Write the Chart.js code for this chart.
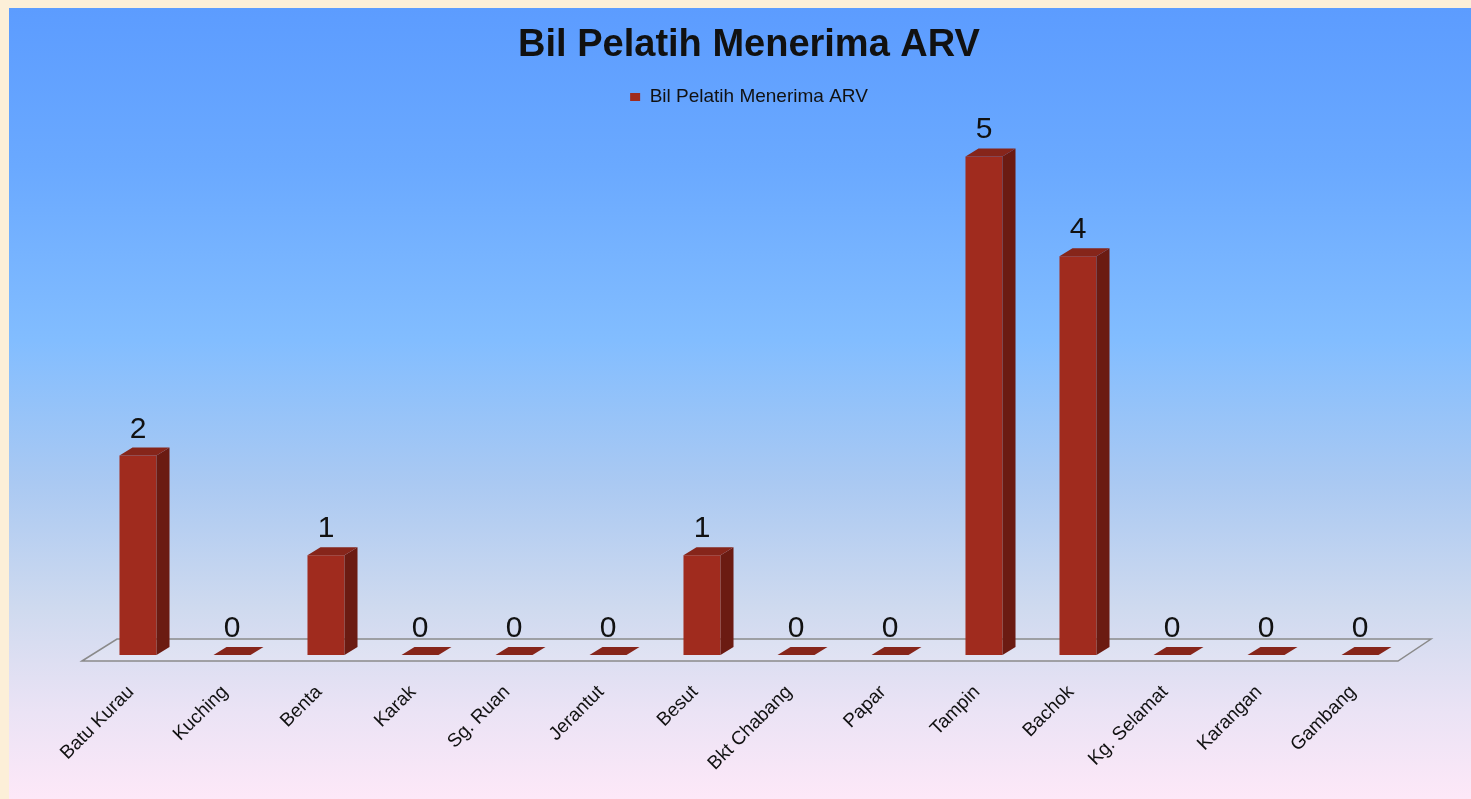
<!DOCTYPE html>
<html lang="ms">
<head>
<meta charset="utf-8">
<title>Bil Pelatih Menerima ARV</title>
<script src="https://cdn.jsdelivr.net/npm/chart.js@4.4.1/dist/chart.umd.min.js"></script>
<style>
    html, body { margin: 0; padding: 0; width: 1471px; height: 799px; overflow: hidden; background: #fcefd8; }
    #bingkai {
        position: absolute; left: 9px; top: 8px; width: 1462px; height: 791px;
        background: linear-gradient(to bottom, #5c9cff 0%, #6aa9ff 20%, #82bdff 42%, #aac9f2 60%, #cfdaef 76%, #ebe3f5 89%, #fde8f8 100%);
    }
</style>
</head>
<body>
<div id="bingkai"><canvas id="carta-arv"></canvas></div>
<script>
/* ====================================================
   CARTA - BIL PELATIH MENERIMA ARV
   ==================================================== */

// Data carta
const tajukCarta = 'Bil Pelatih Menerima ARV';
const labelSiri = 'Bil Pelatih Menerima ARV';
const kategori = ['Batu Kurau', 'Kuching', 'Benta', 'Karak', 'Sg. Ruan', 'Jerantut', 'Besut',
                  'Bkt Chabang', 'Papar', 'Tampin', 'Bachok', 'Kg. Selamat', 'Karangan', 'Gambang'];
const bilPelatih = [2, 0, 1, 0, 0, 0, 1, 0, 0, 5, 4, 0, 0, 0];

const FONT = '"Liberation Sans", Arial, sans-serif';
const WARNA_DEPAN = '#a02b1e';
const WARNA_SISI = '#6b1b12';
const WARNA_ATAS = '#86251a';

/**
 * Lantai 3D, sisi dan bumbung bar, serta nilai di atas setiap bar
 */
const kesan3D = {
    id: 'kesan3D',
    beforeDatasetsDraw(chart) {
        const { ctx, scales: { x, y } } = chart;
        const asas = y.getPixelForValue(0);
        ctx.save();
        ctx.beginPath();
        ctx.moveTo(x.left - 9, asas + 6);
        ctx.lineTo(x.left + 26, asas - 16);
        ctx.lineTo(x.right + 24, asas - 16);
        ctx.lineTo(x.right - 9, asas + 6);
        ctx.closePath();
        ctx.fillStyle = 'rgba(255,255,255,0.12)';
        ctx.fill();
        ctx.strokeStyle = '#8a8a8a';
        ctx.lineWidth = 1.5;
        ctx.stroke();
        ctx.restore();
    },
    afterDatasetsDraw(chart) {
        const { ctx } = chart;
        const dx = 13, dy = 8;
        const meta = chart.getDatasetMeta(0);
        ctx.save();
        meta.data.forEach((bar, i) => {
            const { x, y, base, width } = bar.getProps(['x', 'y', 'base', 'width'], true);
            const kiri = x - width / 2;
            const kanan = x + width / 2;

            // sisi kanan
            if (base - y > 0.5) {
                ctx.beginPath();
                ctx.moveTo(kanan, y);
                ctx.lineTo(kanan + dx, y - dy);
                ctx.lineTo(kanan + dx, base - dy);
                ctx.lineTo(kanan, base);
                ctx.closePath();
                ctx.fillStyle = WARNA_SISI;
                ctx.fill();
            }

            // bumbung (atau tapak rata bila nilai 0)
            ctx.beginPath();
            ctx.moveTo(kiri, y);
            ctx.lineTo(kiri + dx, y - dy);
            ctx.lineTo(kanan + dx, y - dy);
            ctx.lineTo(kanan, y);
            ctx.closePath();
            ctx.fillStyle = WARNA_ATAS;
            ctx.fill();

            // nilai
            ctx.fillStyle = '#111111';
            ctx.font = '30px ' + FONT;
            ctx.textAlign = 'center';
            ctx.textBaseline = 'alphabetic';
            ctx.fillText(String(bilPelatih[i]), x, y - 18);
        });
        ctx.restore();
    }
};

const ctx = document.getElementById('carta-arv').getContext('2d');
window.cartaArv = new Chart(ctx, {
    type: 'bar',
    data: {
        labels: kategori,
        datasets: [{
            label: labelSiri,
            data: bilPelatih,
            backgroundColor: WARNA_DEPAN,
            borderWidth: 0,
            categoryPercentage: 1,
            barPercentage: 0.394
        }]
    },
    options: {
        responsive: true,
        maintainAspectRatio: false,
        animation: false,
        layout: { padding: { left: 82, right: 64, top: 0, bottom: 0 } },
        plugins: {
            title: {
                display: true,
                text: tajukCarta,
                color: '#111111',
                font: { family: FONT, size: 38, weight: 'bold' },
                padding: { top: 15, bottom: 9 }
            },
            legend: {
                position: 'top',
                labels: {
                    color: '#111111',
                    font: { family: FONT, size: 19 },
                    boxWidth: 10,
                    boxHeight: 8
                }
            },
            tooltip: { enabled: false }
        },
        scales: {
            x: {
                grid: { display: false, drawTicks: false },
                border: { display: false },
                ticks: {
                    color: '#111111',
                    font: { family: FONT, size: 19 },
                    minRotation: 45,
                    maxRotation: 45,
                    autoSkip: false,
                    padding: 26,
                    labelOffset: -7
                },
                afterFit(scale) { scale.height = 144; }
            },
            y: {
                display: false,
                min: 0,
                max: 5.4
            }
        }
    },
    plugins: [kesan3D]
});
</script>
</body>
</html>
